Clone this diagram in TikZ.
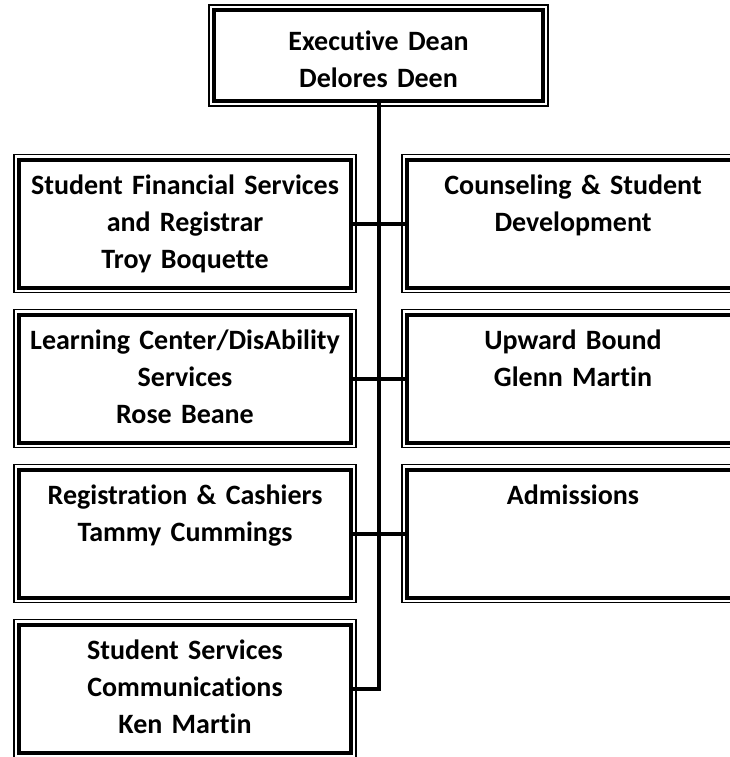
\documentclass[tikz,border=0pt]{standalone}
\usepackage{fontspec}
\setmainfont{Carlito}[Ligatures=NoCommon]
\usetikzlibrary{positioning}
\definecolor{Ink}{HTML}{000000}
\definecolor{Paper}{HTML}{FFFFFF}
\tikzset{
  orgbox/.style={draw=Ink,fill=Paper,line width=4pt,outer sep=0pt,inner sep=0pt,
    preaction={draw=Ink,line width=11.2pt},preaction={draw=Paper,line width=8.8pt},
    minimum width=332pt,minimum height=128pt,text width=326pt,align=center,
    text height=35pt,text depth=93pt,font=\fontsize{28}{37}\selectfont\bfseries,text=Ink},
  headbox/.style={orgbox,minimum width=329pt,minimum height=91pt,text height=41pt,text depth=50pt},
  link/.style={draw=Ink,line width=4pt}
}
\begin{document}
\begin{tikzpicture}[node distance=27pt]
  \useasboundingbox (0,0) rectangle (730pt,-757pt);
  \node[headbox] (dean) at (378.5pt,-55.5pt) {Executive Dean\\Delores Deen};
  \node[orgbox] (sfs) at (185pt,-223.5pt) {Student Financial Services\\and Registrar\\Troy Boquette};
  \node[orgbox,right=56pt of sfs] (csd) {Counseling \& Student\\Development};
  \node[orgbox,below=of sfs] (lcd) {Learning Center/DisAbility\\Services\\Rose Beane};
  \node[orgbox,right=56pt of lcd] (ub) {Upward Bound\\Glenn Martin};
  \node[orgbox,below=of lcd] (reg) {Registration \& Cashiers\\Tammy Cummings};
  \node[orgbox,right=56pt of reg] (adm) {Admissions};
  \node[orgbox,below=of reg] (ssc) {Student Services\\Communications\\Ken Martin};
  \draw[link] (dean.south) -- (dean.south |- ssc.east) -- (ssc.east);
  \draw[link] (sfs.east) -- (csd.west);
  \draw[link] (lcd.east) -- (ub.west);
  \draw[link] (reg.east) -- (adm.west);
\end{tikzpicture}
\end{document}
